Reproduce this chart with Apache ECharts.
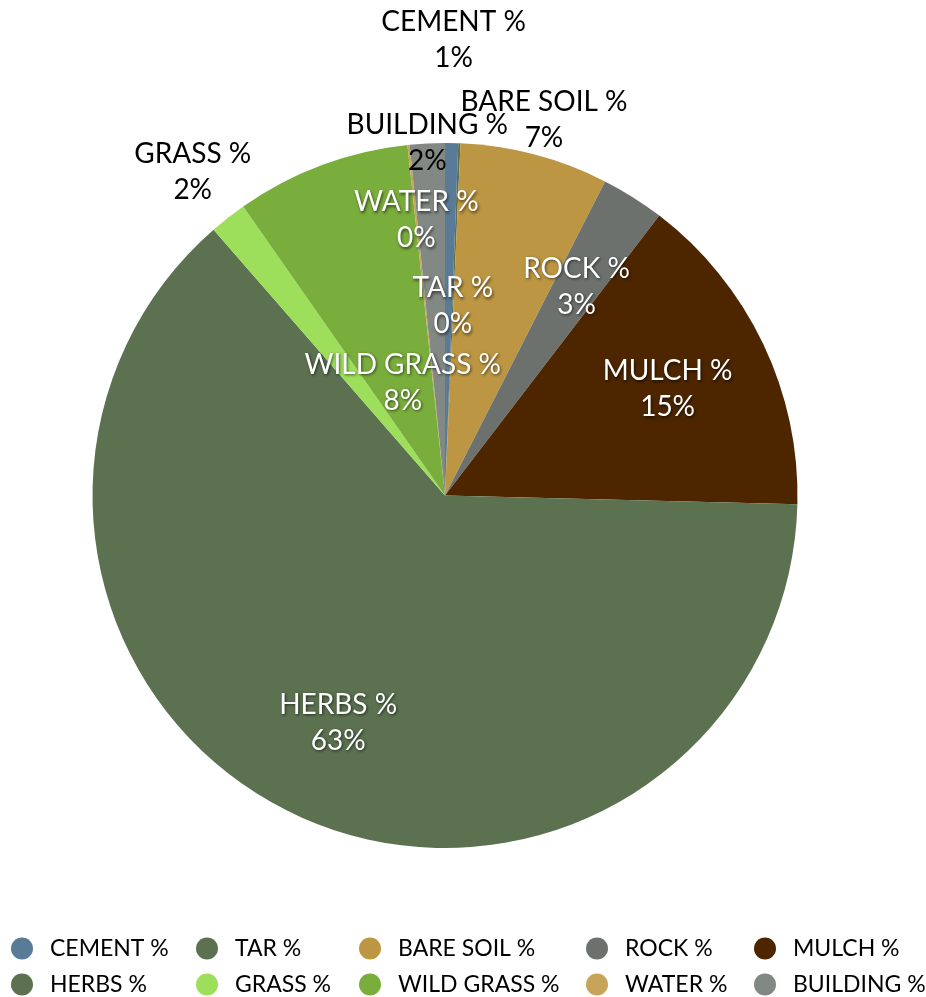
<!DOCTYPE html>
<html>
<head>
<meta charset="utf-8">
<script src="https://cdn.jsdelivr.net/npm/echarts@6/dist/echarts.min.js"></script>
<style>
  html, body { margin: 0; padding: 0; background: #ffffff; }
  #chart { width: 926px; height: 997px; }
</style>
</head>
<body>
<div id="chart"></div>
<script>
// Land cover shares (percent of surveyed area), clockwise from 12 o'clock
const categories = ['CEMENT %', 'TAR %', 'BARE SOIL %', 'ROCK %', 'MULCH %',
                    'HERBS %', 'GRASS %', 'WILD GRASS %', 'WATER %', 'BUILDING %'];
const shares = [0.6, 0.1, 6.8, 2.9, 15.0, 63.2, 1.7, 8.0, 0.1, 1.6];

// Legend is laid out as five columns of two entries each
const legendColumns = [
  ['CEMENT %', 'HERBS %'],
  ['TAR %', 'GRASS %'],
  ['BARE SOIL %', 'WILD GRASS %'],
  ['ROCK %', 'WATER %'],
  ['MULCH %', 'BUILDING %']
];

// ---- styling / layout ----
const sliceColors = ['#5A7B98', '#5B7150', '#BC9642', '#6C716E', '#4D2600',
                     '#5B7150', '#9DDF5B', '#7AAE3C', '#C7A459', '#828884'];
const legendLeft = [11, 196, 359, 586, 754];
const CX = 445, CY = 495.5, R = 352.5;
// distance of each label block from the centre, as a fraction of the radius
const labelRadius = [1.292, 0.538, 1.102, 0.70, 0.70, 0.712, 1.163, 0.342, 0.785, 1.0];
// labels drawn in dark text (outside or on the rim)
const darkLabels = new Set(['CEMENT %', 'BARE SOIL %', 'GRASS %', 'BUILDING %']);
const FONT = 'Lato, "Open Sans", sans-serif';

const total = shares.reduce((a, b) => a + b, 0);
const midAngles = [];
let acc = 0;
shares.forEach(v => {
  midAngles.push((acc + v / 2) / total * Math.PI * 2);
  acc += v;
});

const pieData = categories.map((name, i) => {
  const item = { name: name, value: shares[i], itemStyle: { color: sliceColors[i] } };
  if (darkLabels.has(name)) {
    item.label = { color: '#000000', textShadowBlur: 0, textShadowOffsetX: 0,
                   textShadowOffsetY: 0, textShadowColor: 'transparent' };
  }
  return item;
});

const legends = legendColumns.map((col, k) => ({
  data: col,
  orient: 'vertical',
  left: legendLeft[k],
  top: 937,
  padding: 0,
  itemWidth: 22,
  itemHeight: 22,
  itemGap: 13,
  icon: 'circle',
  selectedMode: false,
  textStyle: { fontFamily: FONT, fontSize: 23, color: '#000000', padding: [0, 0, 0, 12] }
}));

const chart = echarts.init(document.getElementById('chart'), null, { renderer: 'canvas' });
chart.setOption({
  backgroundColor: '#ffffff',
  animation: false,
  legend: legends,
  series: [{
    type: 'pie',
    center: [CX, CY],
    radius: [0, R],
    startAngle: 90,
    clockwise: true,
    avoidLabelOverlap: false,
    percentPrecision: 2,
    itemStyle: { borderWidth: 0 },
    emphasis: { disabled: true },
    label: {
      show: true,
      position: 'inside',
      fontFamily: FONT,
      fontSize: 28,
      lineHeight: 36,
      color: '#ffffff',
      textShadowColor: 'rgba(0,0,0,0.6)',
      textShadowBlur: 3,
      textShadowOffsetX: 1,
      textShadowOffsetY: 1.5,
      formatter: p => p.name + '\n' + Math.round(p.percent) + '%'
    },
    labelLine: { show: false },
    labelLayout: params => {
      const i = params.dataIndex;
      const a = midAngles[i];
      const r = R * labelRadius[i];
      return {
        x: CX + r * Math.sin(a),
        y: CY - r * Math.cos(a),
        align: 'center',
        verticalAlign: 'middle'
      };
    },
    data: pieData
  }]
});
</script>
</body>
</html>
